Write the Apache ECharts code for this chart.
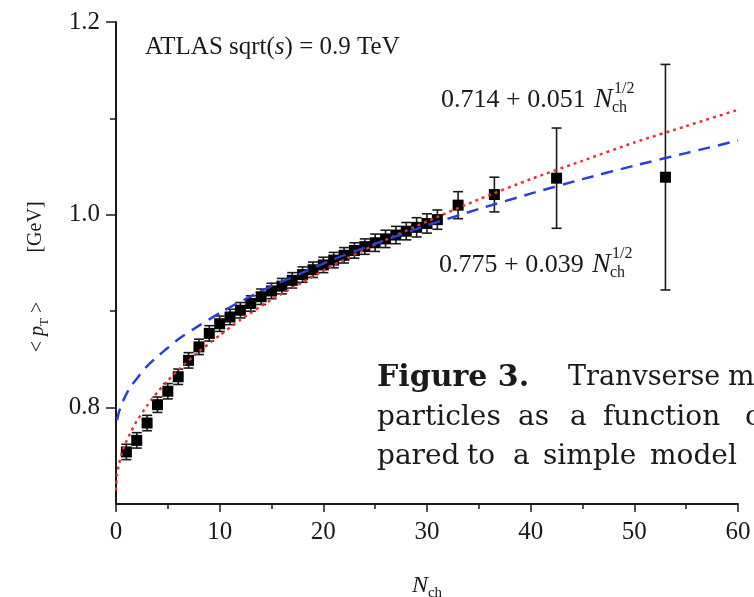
<!DOCTYPE html>
<html>
<head>
<meta charset="utf-8">
<script src="https://cdn.jsdelivr.net/npm/echarts@6/dist/echarts.min.js"></script>
<style>
html, body { margin: 0; padding: 0; background: #fff; }
#main { width: 754px; height: 597px; }
</style>
</head>
<body>
<div id="main"></div>
<script>
// ATLAS <pT> vs Nch, 0.9 TeV
var nch = [1, 2, 3, 4, 5, 6, 7, 8, 9, 10, 11, 12, 13, 14, 15, 16, 17, 18, 19, 20,
    21, 22, 23, 24, 25, 26, 27, 28, 29, 30, 31, 33, 36.5, 42.5, 53];
var meanPt = [0.754, 0.766, 0.784, 0.803, 0.817, 0.832, 0.849, 0.863, 0.877, 0.887,
    0.894, 0.901, 0.908, 0.915, 0.921, 0.926, 0.932, 0.938, 0.943, 0.948,
    0.953, 0.958, 0.963, 0.967, 0.971, 0.975, 0.979, 0.983, 0.987, 0.991,
    0.995, 1.010, 1.021, 1.038, 1.039];
var errPt = [0.008, 0.008, 0.008, 0.008, 0.008, 0.008, 0.008, 0.008, 0.008, 0.008,
    0.008, 0.008, 0.008, 0.008, 0.008, 0.008, 0.008, 0.008, 0.008, 0.008,
    0.008, 0.008, 0.008, 0.008, 0.009, 0.009, 0.009, 0.009, 0.010, 0.010,
    0.010, 0.014, 0.018, 0.052, 0.117];

// fit curves
var redN = [0, 0.1, 0.3, 0.6, 1, 1.5, 2, 3, 4, 5, 6, 8, 10, 12, 15, 18, 21, 25, 30, 35, 40, 45, 50, 55, 60];
var redFit = [0.714, 0.730, 0.742, 0.754, 0.765, 0.776, 0.786, 0.802, 0.816, 0.828, 0.839, 0.858, 0.875,
    0.891, 0.912, 0.930, 0.948, 0.969, 0.993, 1.016, 1.037, 1.056, 1.075, 1.092, 1.109];
var blueN = [0.1, 0.3, 0.6, 1, 1.5, 2, 3, 4, 5, 6, 8, 10, 12, 15, 18, 21, 25, 30, 35, 40, 45, 50, 55, 60];
var blueFit = [0.787, 0.796, 0.805, 0.814, 0.823, 0.830, 0.843, 0.853, 0.862, 0.871, 0.885, 0.898,
    0.910, 0.926, 0.940, 0.954, 0.970, 0.989, 1.006, 1.022, 1.037, 1.051, 1.064, 1.077];

var yMajor = [0.8, 1.0, 1.2];
var yMinor = [0.9, 1.1];

var serif = "'Liberation Serif', 'Times New Roman', serif";
var capFont = "'DejaVu Serif', serif";
var ink = '#1a1a1a';

var chart = echarts.init(document.getElementById('main'));

var points = nch.map(function (n, i) { return [n, meanPt[i], errPt[i]]; });

function renderErr(params, api) {
    var x = api.value(0), v = api.value(1), e = api.value(2);
    var top = api.coord([x, v + e]);
    var bot = api.coord([x, v - e]);
    var w = 5;
    var st = { stroke: ink, lineWidth: 1.6 };
    return {
        type: 'group',
        children: [
            { type: 'line', shape: { x1: top[0], y1: top[1], x2: bot[0], y2: bot[1] }, style: st },
            { type: 'line', shape: { x1: top[0] - w, y1: top[1], x2: top[0] + w, y2: top[1] }, style: st },
            { type: 'line', shape: { x1: bot[0] - w, y1: bot[1], x2: bot[0] + w, y2: bot[1] }, style: st }
        ]
    };
}

// formula label: main text + italic N + stacked 1/2 and ch
function formula(txt, x, y) {
    return [
        { type: 'text', x: x, y: y, style: { text: txt, font: '26px ' + serif, fill: ink, align: 'left', verticalAlign: 'middle' } },
        { type: 'text', x: x + 153, y: y, style: { text: 'N', font: 'italic 28px ' + serif, fill: ink, align: 'left', verticalAlign: 'middle' } },
        { type: 'text', x: x + 173, y: y - 11, style: { text: '1/2', font: '16px ' + serif, fill: ink, align: 'left', verticalAlign: 'middle' } },
        { type: 'text', x: x + 171, y: y + 8, style: { text: 'ch', font: '16px ' + serif, fill: ink, align: 'left', verticalAlign: 'middle' } }
    ];
}

// caption words (justified in the original)
var capWords = [
    ['Figure 3.', 377, 378, 'bold', 30],
    ['Tranvserse', 568, 378, 'normal', 27],
    ['m', 728, 378, 'normal', 28],
    ['particles', 377, 418, 'normal', 28],
    ['as', 518, 418, 'normal', 28],
    ['a', 570, 418, 'normal', 28],
    ['function', 603, 418, 'normal', 28],
    ['o', 745, 418, 'normal', 28],
    ['pared', 377, 457, 'normal', 28],
    ['to', 467, 457, 'normal', 28],
    ['a', 513, 457, 'normal', 28],
    ['simple', 543, 457, 'normal', 28],
    ['model', 650, 457, 'normal', 28]
];

var graphics = [
    {
        type: 'text', x: 145, y: 47,
        style: {
            text: 'ATLAS sqrt({i|s}) = 0.9 TeV', font: '25px ' + serif, fill: ink, verticalAlign: 'middle',
            rich: { i: { fontStyle: 'italic', fontSize: 25, fontFamily: serif, fill: ink } }
        }
    },
    {
        type: 'text', x: 36, y: 227, rotation: Math.PI / 2,
        style: { text: '[GeV]', font: '20px ' + serif, fill: ink, align: 'center', verticalAlign: 'middle' }
    },
    {
        type: 'text', x: 38, y: 327, rotation: Math.PI / 2,
        style: {
            text: '< {i|p}{s|T} >', font: '20px ' + serif, fill: ink, align: 'center', verticalAlign: 'middle',
            rich: {
                i: { fontStyle: 'italic', fontSize: 20, fontFamily: serif, fill: ink, lineHeight: 26 },
                s: { fontSize: 13, fontFamily: serif, fill: ink, verticalAlign: 'bottom', lineHeight: 26 }
            }
        }
    },
    {
        type: 'text', x: 427, y: 586,
        style: {
            text: '{i|N}{s|ch}', fill: ink, align: 'center', verticalAlign: 'middle',
            rich: {
                i: { fontStyle: 'italic', fontSize: 24, fontFamily: serif, fill: ink, lineHeight: 30 },
                s: { fontSize: 15, fontFamily: serif, fill: ink, verticalAlign: 'bottom', lineHeight: 30 }
            }
        }
    }
].concat(formula('0.714 + 0.051', 441, 100))
 .concat(formula('0.775 + 0.039', 439, 265))
 .concat(capWords.map(function (w) {
     return {
         type: 'text', x: w[1], y: w[2],
         style: { text: w[0], font: w[3] + ' ' + w[4] + 'px ' + capFont, fill: ink, align: 'left', verticalAlign: 'middle' }
     };
 }));

var option = {
    backgroundColor: '#fff',
    animation: false,
    grid: { left: 116, right: 16, top: 22, bottom: 93 },
    xAxis: {
        type: 'value', min: 0, max: 60, interval: 10,
        axisLine: { lineStyle: { color: ink, width: 2 } },
        axisTick: { length: 8, lineStyle: { color: ink, width: 1.5 } },
        minorTick: { show: true, splitNumber: 2, length: 5, lineStyle: { color: ink, width: 1.5 } },
        splitLine: { show: false },
        axisLabel: { margin: 16, fontSize: 25, fontFamily: serif, color: ink }
    },
    yAxis: [{
        type: 'value', min: 0.7, max: 1.2,
        axisLine: { show: true, lineStyle: { color: ink, width: 2 } },
        axisTick: { show: true, length: 10, customValues: yMajor, lineStyle: { color: ink, width: 1.5 } },
        splitLine: { show: false },
        axisLabel: {
            margin: 16, fontSize: 25, fontFamily: serif, color: ink, customValues: yMajor,
            formatter: function (v) { return v.toFixed(1); }
        }
    }, {
        type: 'value', min: 0.7, max: 1.2, position: 'left',
        axisLine: { show: false },
        axisTick: { show: true, length: 6, customValues: yMinor, lineStyle: { color: ink, width: 1.5 } },
        splitLine: { show: false },
        axisLabel: { show: false }
    }],
    series: [
        {
            type: 'custom', renderItem: renderErr, data: points,
            encode: { x: 0, y: 1 }, z: 2
        },
        {
            type: 'scatter', data: points, symbol: 'rect', symbolSize: 11,
            itemStyle: { color: '#000', opacity: 1 }, z: 3
        },
        {
            type: 'line', data: redN.map(function (n, i) { return [n, redFit[i]]; }),
            showSymbol: false, smooth: 0.2,
            lineStyle: { color: '#e03535', width: 2.5, type: [3, 4] }, z: 4
        },
        {
            type: 'line', data: blueN.map(function (n, i) { return [n, blueFit[i]]; }),
            showSymbol: false, smooth: 0.2,
            lineStyle: { color: '#2a3fd6', width: 2.5, type: [12, 8] }, z: 4
        }
    ],
    graphic: graphics
};

chart.setOption(option);
</script>
</body>
</html>
